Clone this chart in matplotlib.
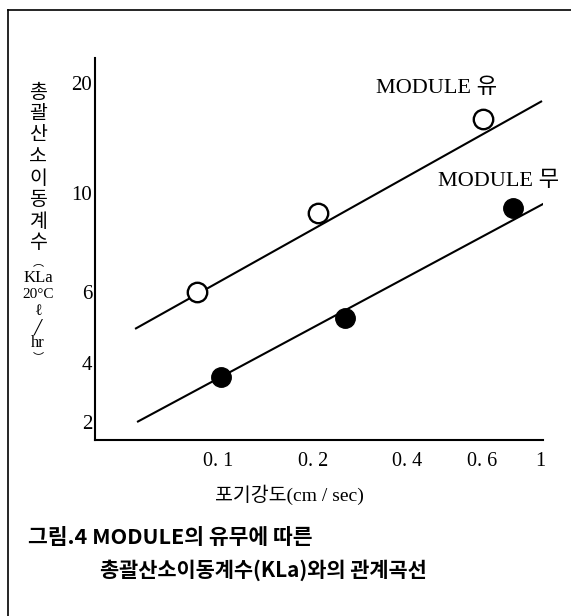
import numpy as np
import matplotlib
matplotlib.use("Agg")
import matplotlib.pyplot as plt
from matplotlib.lines import Line2D

# ---------------- data ----------------
x_ticks = [0.1, 0.2, 0.4, 0.6, 1.0]
x_ticklabels = ["0. 1", "0. 2", "0. 4", "0. 6", "1"]
y_ticks = [2, 4, 6, 10, 20]
y_ticklabels = ["2", "4", "6", "10", "20"]

# MODULE 유 (open circles)
with_x = [0.086, 0.207, 0.605]
with_y = [6.0, 9.0, 15.9]
with_line_x = [0.0546, 1.018]
with_line_y = [4.86, 17.85]

# MODULE 무 (filled circles)
without_x = [0.102, 0.253, 0.788]
without_y = [3.39, 5.17, 9.26]
without_line_x = [0.0554, 1.045]
without_line_y = [2.0, 9.50]

label_with = "MODULE 유"
label_without = "MODULE 무"
xlabel = "포기강도(cm / sec)"
ylabel_hangul = ["총", "괄", "산", "소", "이", "동", "계", "수"]
ylabel_rest = ["︵", "KLa", "20°C", "ℓ", "╱", "hr", "︶"]
caption1 = "그림.4 MODULE의 유무에 따른"
caption2 = "총괄산소이동계수(KLa)와의 관계곡선"

# ---------------- figure ----------------
W, H = 571, 616
fig = plt.figure(figsize=(W / 100, H / 100), dpi=100)

SERIF = ["Liberation Serif", "DejaVu Serif", "Noto Sans CJK KR"]
SANS = ["Noto Sans CJK KR", "DejaVu Sans"]

# hand-drawn axes: piecewise log scale through the printed tick positions
x_tick_px = [218, 313, 407, 482, 540]          # pixel x of the tick labels
y_tick_px = [616 - p for p in (422, 363, 292, 193, 83)]  # height from bottom


def make_scale(vals, pos):
    lv = np.log10(np.asarray(vals, float))
    p = np.asarray(pos, float)
    s0 = (p[1] - p[0]) / (lv[1] - lv[0])
    s1 = (p[-1] - p[-2]) / (lv[-1] - lv[-2])

    def fwd(v):
        v = np.asarray(v, float)
        with np.errstate(all="ignore"):
            l = np.log10(np.where(v > 0, v, np.nan))
        out = np.interp(l, lv, p)
        out = np.where(l < lv[0], p[0] + (l - lv[0]) * s0, out)
        out = np.where(l > lv[-1], p[-1] + (l - lv[-1]) * s1, out)
        return out

    def inv(q):
        q = np.asarray(q, float)
        l = np.interp(q, p, lv)
        l = np.where(q < p[0], lv[0] + (q - p[0]) / s0, l)
        l = np.where(q > p[-1], lv[-1] + (q - p[-1]) / s1, l)
        return 10 ** l

    return fwd, inv


xf, xi = make_scale(x_ticks, x_tick_px)
yf, yi = make_scale(y_ticks, y_tick_px)

ax_l, ax_r, ax_t, ax_b = 95, 543, 58, 440
ax = fig.add_axes([ax_l / W, (H - ax_b) / H, (ax_r - ax_l) / W, (ax_b - ax_t) / H])
ax.set_xscale("function", functions=(xf, xi))
ax.set_yscale("function", functions=(yf, yi))
ax.set_xlim(float(xi(ax_l)), float(xi(ax_r)))
ax.set_ylim(float(yi(H - ax_b)), float(yi(H - ax_t)))

ax.plot(with_line_x, with_line_y, color="black", lw=1.5, solid_capstyle="butt")
ax.plot(without_line_x, without_line_y, color="black", lw=1.5, solid_capstyle="butt")
ax.plot(with_x, with_y, "o", ms=14, mfc="white", mec="black", mew=1.7, ls="none", zorder=3)
ax.plot(without_x, without_y, "o", ms=14, mfc="black", mec="black", mew=1.0, ls="none", zorder=3)

ax.set_xticks(x_ticks)
ax.set_xticklabels(x_ticklabels, family=SERIF, fontsize=14.5)
ax.set_yticks(y_ticks)
ax.set_yticklabels(y_ticklabels, family=SERIF, fontsize=15)
ax.minorticks_off()
ax.tick_params(axis="x", length=0, pad=9)
ax.tick_params(axis="y", length=0, pad=2)
for s in ("top", "right"):
    ax.spines[s].set_visible(False)
for s in ("left", "bottom"):
    ax.spines[s].set_linewidth(1.5)

# series labels
fig.text(437 / W, 1 - 88 / H, label_with, family=SERIF, fontsize=16,
         ha="center", va="center")
fig.text(499 / W, 1 - 181 / H, label_without, family=SERIF, fontsize=16,
         ha="center", va="center")

# x label
fig.text(289 / W, 1 - 495 / H, xlabel, family=SERIF, fontsize=14,
         ha="center", va="center")

# vertical y label
y0, pitch = 92, 21.5
for i, ch in enumerate(ylabel_hangul):
    fig.text(38 / W, 1 - (y0 + i * pitch) / H, ch, family=SANS, fontsize=14,
             ha="center", va="center")
rest_y = [262, 278, 294, 311, 327, 343, 357]
rest_size = [8, 12, 11, 11.5, 10, 12, 8]
for s, yy, fs in zip(ylabel_rest, rest_y, rest_size):
    fam = SANS if s in ("︵", "︶") else SERIF
    fig.text(38 / W, 1 - yy / H, s, family=fam, fontsize=fs,
             ha="center", va="center")

# caption
fig.text(28 / W, 1 - 538 / H, caption1, family=SANS, fontsize=15.5,
         fontweight="bold", ha="left", va="center")
fig.text(100 / W, 1 - 570 / H, caption2, family=SANS, fontsize=15,
         fontweight="bold", ha="left", va="center")

# page frame (left and top edges)
fig.add_artist(Line2D([8 / W, 8 / W], [0, 1 - 10 / H], transform=fig.transFigure,
                      color="black", lw=1.2))
fig.add_artist(Line2D([8 / W, 1], [1 - 10 / H, 1 - 10 / H], transform=fig.transFigure,
                      color="black", lw=1.2))

fig.savefig("out.png", dpi=100)
